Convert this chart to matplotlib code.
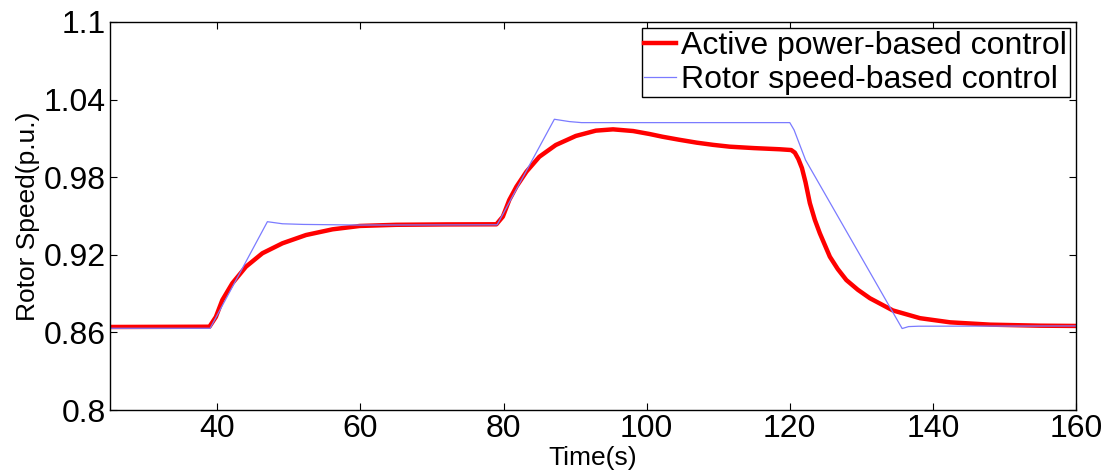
import matplotlib
matplotlib.use("Agg")
import matplotlib.pyplot as plt

plt.rcParams['font.family'] = ['Liberation Sans', 'DejaVu Sans']

# active power-based control (red)
t_ap = [25, 38.9, 39.8, 40.7, 42.1, 44.0, 46.3, 49.1, 52.4, 56.1, 59.9, 65,
        72, 79.0, 79.9, 80.8, 81.8, 83.2, 85.0, 87.3, 90.1, 92.9, 95.3, 98.1,
        100.4, 102.2, 104.5, 107.0, 109.3, 111.6, 115, 118.6, 120.2, 120.7,
        121.2, 121.7, 122.2, 122.8, 123.5, 124.2, 125.6, 126.7, 127.9, 129.5,
        131.2, 134.4, 138.2, 142.4, 148, 155, 160]
w_ap = [0.8642, 0.8644, 0.872, 0.885, 0.898, 0.9108, 0.9212, 0.9289, 0.9353,
        0.9397, 0.9423, 0.9432, 0.9435, 0.9436, 0.9495, 0.9624, 0.9727,
        0.9843, 0.9958, 1.0049, 1.0119, 1.016, 1.017, 1.0157, 1.0134, 1.0113,
        1.009, 1.0067, 1.005, 1.0036, 1.0025, 1.0016, 1.001, 0.999, 0.994,
        0.987, 0.976, 0.960, 0.947, 0.9366, 0.9185, 0.909, 0.9005, 0.893,
        0.8864, 0.877, 0.871, 0.8678, 0.866, 0.8652, 0.865]

# rotor speed-based control (blue)
t_rs = [25, 39.0, 47.0, 49.1, 52, 60, 79.1, 87.1, 89.2, 90.9, 120.0, 120.6,
        122.2, 135.7, 136.6, 138, 160]
w_rs = [0.8632, 0.8632, 0.9456, 0.944, 0.9435, 0.9430, 0.9432, 1.0248, 1.023,
        1.0222, 1.0222, 1.0165, 0.9933, 0.863, 0.8645, 0.8648, 0.865]

yticks = [0.8, 0.86, 0.92, 0.98, 1.04, 1.1]
ytick_labels = ['0.8', '0.86', '0.92', '0.98', '1.04', '1.1']
xticks = [40, 60, 80, 100, 120, 140, 160]

fig = plt.figure(figsize=(11.13, 4.75), dpi=100)
ax = fig.add_axes([0.0988, 0.1368, 0.868, 0.8169])

ax.plot(t_ap, w_ap, color='#ff0000', lw=3.2, label='Active power-based control')
ax.plot(t_rs, w_rs, color='#7b7bff', lw=0.9, label='Rotor speed-based control')

ax.set_xlim(25, 160)
ax.set_ylim(0.8, 1.1)
ax.set_xticks(xticks)
ax.set_yticks(yticks)
ax.set_yticklabels(ytick_labels)
ax.tick_params(direction='in', length=5, width=0.8, top=True, right=True,
               labelsize=23, pad=3)
for s in ax.spines.values():
    s.set_linewidth(1.0)

ax.set_xlabel('Time(s)', fontsize=19, labelpad=1)
ax.set_ylabel('Rotor Speed(p.u.)', fontsize=19, labelpad=3)

leg = ax.legend(loc='upper right', fontsize=23, frameon=True, fancybox=False,
                edgecolor='black', framealpha=1, handlelength=1.0,
                handletextpad=0.15, labelspacing=0.12, borderpad=0.08,
                borderaxespad=0.2)
leg.get_frame().set_linewidth(1.0)

fig.savefig('out.png', dpi=100)
